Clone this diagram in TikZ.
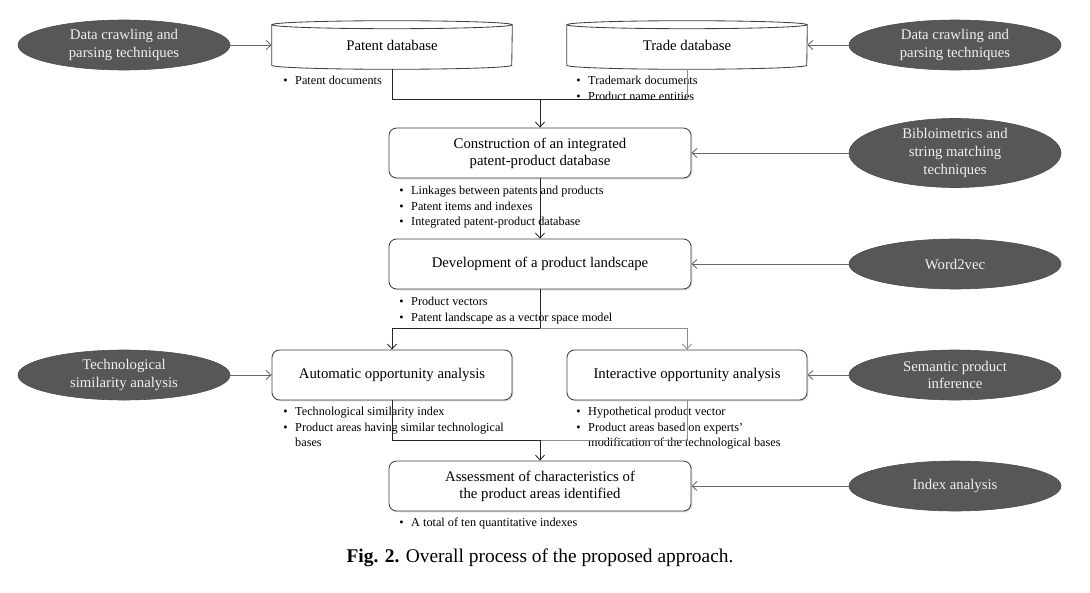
\documentclass[tikz,border=0pt]{standalone}
\usepackage{fontspec}
\setmainfont{Liberation Serif}
\usetikzlibrary{shapes.geometric,arrows.meta,shadows}
\definecolor{ovalgray}{HTML}{575757}
\definecolor{ovaltext}{HTML}{F0F0F0}
\definecolor{linegray}{HTML}{8C8C8C}
\newcommand{\itm}{\makebox[8.5pt][l]{\textbullet}}
\newcommand{\itmgap}{\hspace*{8.5pt}}

\begin{document}
\begin{tikzpicture}[x=0.025cm,y=0.025cm,
	stepbox/.style={draw=black!75, line width=0.6pt, rounded corners=5.5pt, fill=white, drop shadow={shadow xshift=0.9pt,shadow yshift=-0.9pt,opacity=0.3}, minimum width=7.55cm, minimum height=1.25cm, align=center, font=\fontsize{10.5}{12}\selectfont},
	tool/.style={ellipse, draw=black!70, fill=ovalgray, text=ovaltext, minimum width=5.3cm, minimum height=1.25cm, inner sep=0pt, align=center, font=\fontsize{10.5}{12.6}\selectfont},
	dbbox/.style={minimum width=6cm, minimum height=1.2cm, inner sep=0pt, font=\fontsize{10.5}{12}\selectfont},
	dbline/.style={line width=0.6pt, black!75},
	notes/.style={anchor=north west, inner sep=0pt, align=left, font=\fontsize{8.7}{11}\selectfont},
	conn/.style={line width=0.6pt, black!85},
	conngray/.style={line width=0.6pt, linegray},
	arr/.style={conn, -{Straight Barb[length=3.5pt,width=6.5pt]}},
	arrgray/.style={conngray, -{Straight Barb[length=3.5pt,width=6.5pt]}},
	sidearr/.style={line width=0.6pt, black!60, -{Straight Barb[length=3.5pt,width=6.5pt]}}
	]
\useasboundingbox (0,0) rectangle (1090,-592);

% databases
\node[dbbox] (pdb) at (392,-45) {Patent database};
\draw[dbline] ([yshift=-0.1cm]pdb.north west) -- ([yshift=0.1cm]pdb.south west) arc (180:360:3cm and 0.1cm) -- ([yshift=-0.1cm]pdb.north east);
\draw[dbline] ([yshift=-0.1cm]pdb.north) ellipse (3cm and 0.1cm);
\node[dbbox] (tdb) at (687,-45) {Trade database};
\draw[dbline] ([yshift=-0.1cm]tdb.north west) -- ([yshift=0.1cm]tdb.south west) arc (180:360:3cm and 0.1cm) -- ([yshift=-0.1cm]tdb.north east);
\draw[dbline] ([yshift=-0.1cm]tdb.north) ellipse (3cm and 0.1cm);

% process steps
\node[stepbox] (constr) at (540,-153) {Construction of an integrated\\patent-product database};
\node[stepbox] (dev) at (540,-264) {Development of a product landscape};
\node[stepbox, minimum width=6cm] (auto) at (392,-375) {Automatic opportunity analysis};
\node[stepbox, minimum width=6cm] (inter) at (687,-375) {Interactive opportunity analysis};
\node[stepbox] (assess) at (540,-486) {Assessment of characteristics of\\the product areas identified};

% techniques
\node[tool] (crawlL) at (124,-45) {Data crawling and\\parsing techniques};
\node[tool] (crawlR) at (955,-45) {Data crawling and\\parsing techniques};
\node[tool] (biblio) at (955,-153) {Bibloimetrics and\\string matching\\techniques};
\node[tool] (wordvec) at (955,-264) {Word2vec};
\node[tool] (techsim) at (124,-375) {Technological\\similarity analysis};
\node[tool] (seminf) at (955,-375) {Semantic product\\inference};
\node[tool] (indexan) at (955,-486) {Index analysis};

% outputs
\node[notes] (pdbout) at (283,-76) {\itm Patent documents};
\node[notes] (tdbout) at (576,-76) {\itm Trademark documents\\\itm Product name entities};
\node[notes] (constrout) at (399,-186) {\itm Linkages between patents and products\\\itm Patent items and indexes\\\itm Integrated patent-product database};
\node[notes] (devout) at (399,-297) {\itm Product vectors\\\itm Patent landscape as a vector space model};
\node[notes] (autoout) at (283,-407) {\itm Technological similarity index\\\itm Product areas having similar technological\\\itmgap bases};
\node[notes] (interout) at (576,-407) {\itm Hypothetical product vector\\\itm Product areas based on experts'\\\itmgap modification of the technological bases};
\node[notes] (assessout) at (399,-518) {\itm A total of ten quantitative indexes};

\node (caption) at (540,-558) {\fontsize{13.8}{16}\selectfont\textbf{Fig. 2.} Overall process of the proposed approach.};

% flow
\coordinate (j1) at (540,-99);
\coordinate (j2) at (540,-328);
\coordinate (j3) at (540,-440);
\draw[conn] (pdb.south) |- (tdb.south |- j1);
\draw[conngray] (tdb.south) -- (tdb.south |- j1);
\draw[arr] (j1) -- (constr.north);
\draw[arr] (constr) -- (dev);
\draw[conn] (dev.south) -- (j2);
\draw[arr] (j2) -| (auto.north);
\draw[arrgray] (j2) -| (inter.north);
\draw[conn] (auto.south) |- (j3);
\draw[conngray] (inter.south) |- (j3);
\draw[arr] (j3) -- (assess.north);

\draw[sidearr] (crawlL) -- (pdb);
\draw[sidearr] (crawlR) -- (tdb);
\draw[sidearr] (biblio) -- (constr);
\draw[sidearr] (wordvec) -- (dev);
\draw[sidearr] (techsim) -- (auto);
\draw[sidearr] (seminf) -- (inter);
\draw[sidearr] (indexan) -- (assess);
\end{tikzpicture}
\end{document}
